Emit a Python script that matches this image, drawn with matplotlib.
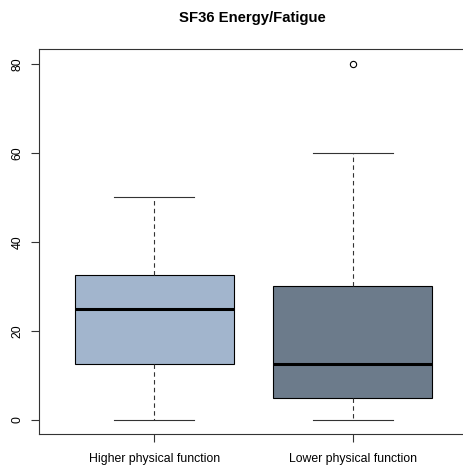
import matplotlib
matplotlib.use("Agg")
import matplotlib.pyplot as plt

# boxplot summary
groups = ["Higher physical function", "Lower physical function"]
whislo = [0, 0]
q1 = [12.5, 5]
med = [25, 12.5]
q3 = [32.5, 30]
whishi = [50, 60]
fliers = [[], [80]]
box_colors = ["#A2B5CD", "#6C7B8B"]
yticks = [0, 20, 40, 60, 80]

plt.rcParams["font.family"] = ["Liberation Sans", "DejaVu Sans"]

fig = plt.figure(figsize=(4.64, 4.65), dpi=100)
ax = fig.add_axes([39 / 464, 31 / 465, 429 / 464, 384.5 / 465])

stats = []
for i in range(len(groups)):
    stats.append(dict(label=groups[i], whislo=whislo[i], q1=q1[i], med=med[i],
                      q3=q3[i], whishi=whishi[i], fliers=fliers[i]))

bp = ax.bxp(stats, positions=[1, 2], widths=0.8, patch_artist=True,
            showfliers=True,
            boxprops=dict(edgecolor="black", linewidth=0.8),
            medianprops=dict(color="black", linewidth=2.2, solid_capstyle="butt"),
            whiskerprops=dict(color="#333333", linestyle=(0, (4, 3)), linewidth=0.8),
            capprops=dict(color="#333333", linewidth=0.8),
            capwidths=0.4,
            flierprops=dict(marker="o", markersize=4.5, markerfacecolor="none",
                            markeredgecolor="black", markeredgewidth=0.8))
for patch, c in zip(bp["boxes"], box_colors):
    patch.set_facecolor(c)

ax.set_xlim(0.42, 2.58)
ax.set_ylim(-3.2, 83.2)
ax.set_yticks(yticks)
ax.set_yticklabels([str(v) for v in yticks], rotation=90, va="center")
ax.set_xticks([1, 2])
ax.set_xticklabels(groups)
ax.tick_params(axis="both", labelsize=8.8, length=6, width=0.8, color="#333333", pad=5)
ax.tick_params(axis="x", pad=8)
for s in ax.spines.values():
    s.set_linewidth(0.8)
    s.set_color("#333333")

fig.text(252 / 464, 0.961, "SF36 Energy/Fatigue", ha="center", va="center",
         fontsize=10.7, fontweight="bold")

fig.savefig("out.png", dpi=100)
